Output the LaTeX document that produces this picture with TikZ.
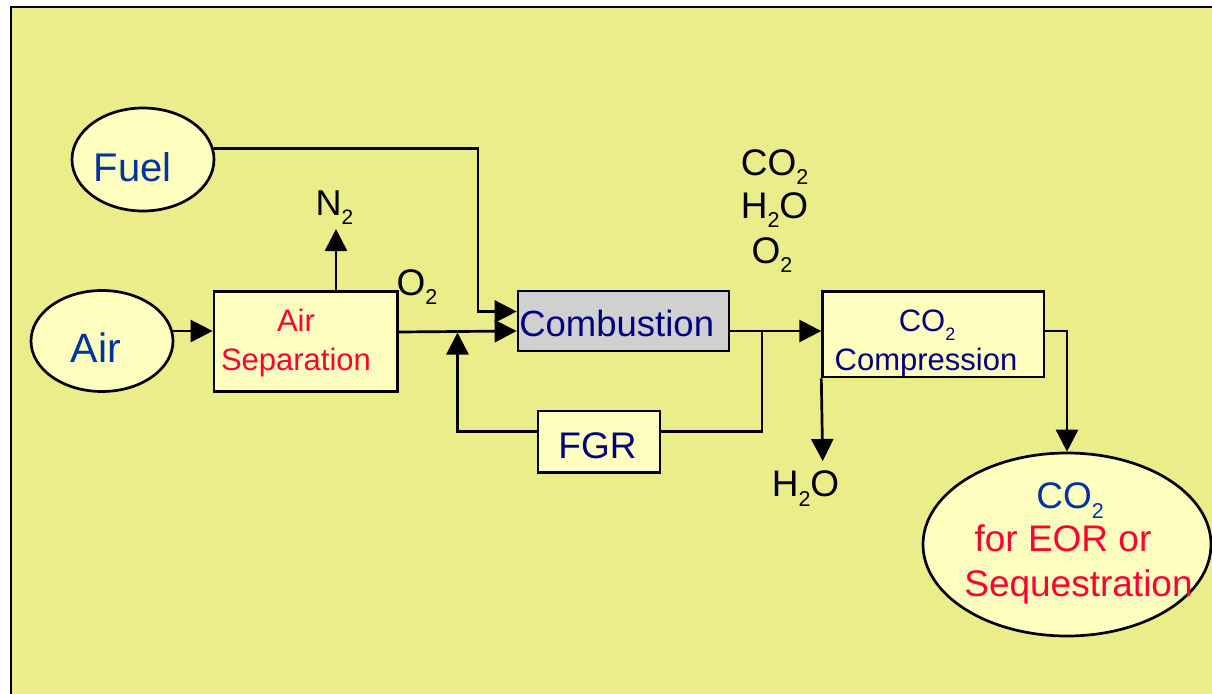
\documentclass[tikz,border=0pt]{standalone}
\usepackage{fontspec}
\setmainfont{Liberation Sans}
\usepackage{graphicx}
\usetikzlibrary{arrows.meta,shapes.geometric,calc}
\definecolor{bgyel}{RGB}{234,237,138}
\definecolor{boxyel}{RGB}{255,255,192}
\definecolor{combgray}{RGB}{208,208,208}
\definecolor{royal}{RGB}{0,51,160}
\definecolor{navyt}{RGB}{0,0,128}
\definecolor{redt}{RGB}{255,0,51}
\newcommand\lowtwo{\raisebox{-0.27em}{\scalebox{0.58}{2}}}
\newcommand\fsz[1]{\fontsize{#1}{#1}\selectfont}
\begin{document}
\begin{tikzpicture}[x=1pt,y=-1pt,
 lw/.style={line width=2.7pt},
 boxnode/.style={draw,lw,fill=boxyel,rectangle,inner sep=0pt},
 ellnode/.style={draw,lw,fill=boxyel,ellipse,inner sep=0pt},
 txt/.style={anchor=base,inner sep=0pt},
 flow/.style={lw,-{Triangle[length=22pt,width=22pt]}},
 pipe/.style={lw}]
\useasboundingbox (0,0) rectangle (1212,693);
\fill[white] (0,0) rectangle (1212,693);
\begin{scope}
\clip (0,0) rectangle (1212,693);
\draw[line width=2.5pt,fill=bgyel] (11,7) rectangle (1250,720);
\end{scope}

% nodes
\node[ellnode,minimum width=142pt,minimum height=103pt] (fuel) at (143,159.5) {};
\node[txt,text=royal,font=\fsz{40}] (fueltxt) at (132.5,181) {Fuel};
\node[ellnode,minimum width=142pt,minimum height=101pt] (air) at (102,341) {};
\node[txt,text=royal,font=\fsz{41}] (airtxt) at (96,362) {Air};
\node[boxnode,minimum width=183.5pt,minimum height=100pt] (asep) at (305.75,341.6) {};
\node[txt,text=redt,font=\fsz{31}] (aseptxta) at (296,331.7) {Air};
\node[txt,text=redt,font=\fsz{31}] (aseptxtb) at (296,370) {Separation};
\node[boxnode,fill=combgray,minimum width=211pt,minimum height=60pt] (comb) at (623.5,321) {};
\node[txt,text=navyt,font=\fsz{36.5}] (combtxt) at (616.7,336.7) {Combustion};
\node[boxnode,minimum width=221.3pt,minimum height=85.3pt] (comp) at (933.3,334.3) {};
\node[txt,text=navyt,font=\fsz{31}] (comptxta) at (927,331.7) {CO\lowtwo};
\node[txt,text=navyt,font=\fsz{31}] (comptxtb) at (926,370) {Compression};
\node[boxnode,minimum width=122pt,minimum height=61.7pt] (fgr) at (599,441.8) {};
\node[txt,text=navyt,font=\fsz{37}] (fgrtxt) at (597.5,458.3) {FGR};
\node[ellnode,minimum width=288pt,minimum height=183pt] (seq) at (1067,544.5) {};
\node[txt,text=royal,font=\fsz{37}] (seqtxta) at (1070,508.3) {CO\lowtwo};
\node[txt,text=redt,font=\fsz{37}] (seqtxtb) at (1063,551.7) {for EOR or};
\node[txt,text=redt,font=\fsz{37}] (seqtxtc) at (1078.5,596.7) {Sequestration};

% free labels
\node[txt,font=\fsz{36}] (n2) at (334.5,215) {N\lowtwo};
\node[txt,font=\fsz{37}] (o2) at (417,295) {O\lowtwo};
\node[txt,font=\fsz{37}] (gco2) at (774.5,175) {CO\lowtwo};
\node[txt,font=\fsz{37}] (gh2o) at (774.5,218) {H\lowtwo O};
\node[txt,font=\fsz{37}] (go2) at (772,263) {O\lowtwo};
\node[txt,font=\fsz{37}] (wh2o) at (805.5,496.7) {H\lowtwo O};

% coordinates
\coordinate (n2tip) at (336,229);
\coordinate (fuelbend) at (478,311.5);
\coordinate (br) at (762,331);
\coordinate (fgrtip) at (457.5,332.5);
\coordinate (h2otip) at (822.7,461);

% connectors
\draw[flow] (fuel.9.4) -| (fuelbend) -- ([yshift=9.5pt]comb.west);
\draw[flow] (air.8.2) -- (air.8.2 -| asep.west);
\draw[flow] ([xshift=30.25pt]asep.north) -- (n2tip);
\draw[flow] ([yshift=9.6pt]asep.east) -- ([yshift=-10pt]comb.west);
\draw[flow] ([yshift=-10pt]comb.east) -- ([yshift=3.3pt]comp.west);
\draw[pipe] (br) |- ([yshift=10pt]fgr.east);
\draw[flow] ([yshift=10pt]fgr.west) -| (fgrtip);
\draw[flow] ([yshift=3.3pt]comp.east) -| (seq.north);
\draw[flow] (comp.south west) -- (h2otip);
\end{tikzpicture}
\end{document}
